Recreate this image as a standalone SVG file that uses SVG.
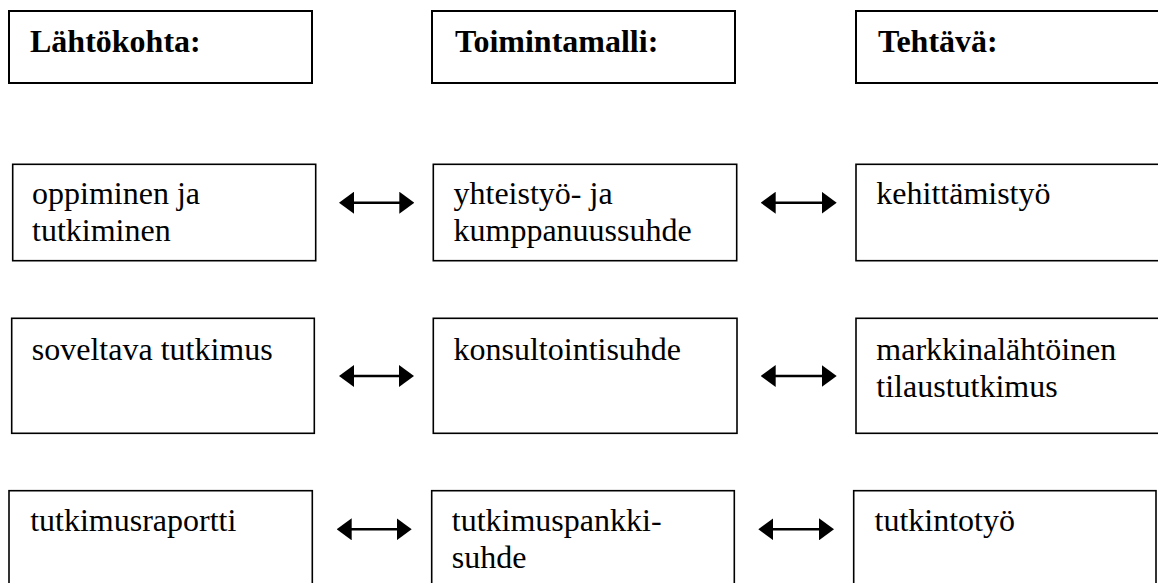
<svg xmlns="http://www.w3.org/2000/svg" width="1158" height="583" viewBox="0 0 1158 583">
  <style>
    .head rect { fill: #fff; stroke: #000; stroke-width: 2; }
    .box rect { fill: #fff; stroke: #000; stroke-width: 1.6; }
    .head text { font-family: "Liberation Serif", "Times New Roman", serif; font-weight: bold; font-size: 32px; fill: #000; }
    .box text { font-family: "Liberation Serif", "Times New Roman", serif; font-size: 32px; fill: #000; }
    .link { stroke: #000; stroke-width: 2.6; fill: none; marker-start: url(#tip); marker-end: url(#tip); }
  </style>
  <defs>
    <marker id="tip" viewBox="0 0 15 22" refX="5" refY="11" markerWidth="15" markerHeight="22" markerUnits="userSpaceOnUse" orient="auto-start-reverse">
      <path d="M0,0 L15,11 L0,22 Z" fill="#000"/>
    </marker>
  </defs>
  <rect width="1158" height="583" fill="#fff"/>

  <!-- column headings -->
  <g id="lahtokohta" class="head">
    <rect x="9" y="11" width="303" height="72"/>
    <text x="30" y="51.5">Lähtökohta:</text>
  </g>
  <g id="toimintamalli" class="head">
    <rect x="432" y="11" width="303" height="72"/>
    <text x="455" y="51.5">Toimintamalli:</text>
  </g>
  <g id="tehtava" class="head">
    <rect x="856" y="11" width="320" height="72"/>
    <text x="878" y="51.5">Tehtävä:</text>
  </g>

  <!-- row 1 -->
  <g id="oppiminen" class="box">
    <rect x="12.7" y="164.3" width="303" height="96.4"/>
    <text x="32" y="204.3">oppiminen ja</text>
    <text x="32" y="241.3">tutkiminen</text>
  </g>
  <g id="yhteistyo" class="box">
    <rect x="433.3" y="164.3" width="303.4" height="96.4"/>
    <text x="453.5" y="204.3">yhteistyö- ja</text>
    <text x="453.5" y="241.3">kumppanuussuhde</text>
  </g>
  <g id="kehittamistyo" class="box">
    <rect x="856" y="164.3" width="320" height="96.4"/>
    <text x="876.3" y="204.3">kehittämistyö</text>
  </g>

  <!-- row 2 -->
  <g id="soveltava" class="box">
    <rect x="11.7" y="318.3" width="302.6" height="115"/>
    <text x="31.8" y="360">soveltava tutkimus</text>
  </g>
  <g id="konsultointi" class="box">
    <rect x="433.3" y="318.3" width="303.7" height="115"/>
    <text x="453.5" y="360">konsultointisuhde</text>
  </g>
  <g id="tilaustutkimus" class="box">
    <rect x="856" y="318.3" width="320" height="115"/>
    <text x="876.3" y="360">markkinalähtöinen</text>
    <text x="876.3" y="396.7">tilaustutkimus</text>
  </g>

  <!-- row 3 -->
  <g id="raportti" class="box">
    <rect x="9" y="490.7" width="303.3" height="120"/>
    <text x="30.2" y="531">tutkimusraportti</text>
  </g>
  <g id="tutkimuspankki" class="box">
    <rect x="431.7" y="490.7" width="302.6" height="120"/>
    <text x="451.8" y="531">tutkimuspankki-</text>
    <text x="451.8" y="568">suhde</text>
  </g>
  <g id="tutkintotyo" class="box">
    <rect x="853.7" y="490.7" width="302.3" height="120"/>
    <text x="874.5" y="531">tutkintotyö</text>
  </g>

  <!-- two-way connectors -->
  <g id="connectors">
    <line class="link" x1="349" y1="202.7" x2="404.3" y2="202.7"/>
    <line class="link" x1="770.7" y1="202.7" x2="826.7" y2="202.7"/>
    <line class="link" x1="349" y1="376" x2="404" y2="376"/>
    <line class="link" x1="770.7" y1="376" x2="826.7" y2="376"/>
    <line class="link" x1="346.7" y1="529.3" x2="401.7" y2="529.3"/>
    <line class="link" x1="768.3" y1="529.3" x2="824" y2="529.3"/>
  </g>
</svg>
